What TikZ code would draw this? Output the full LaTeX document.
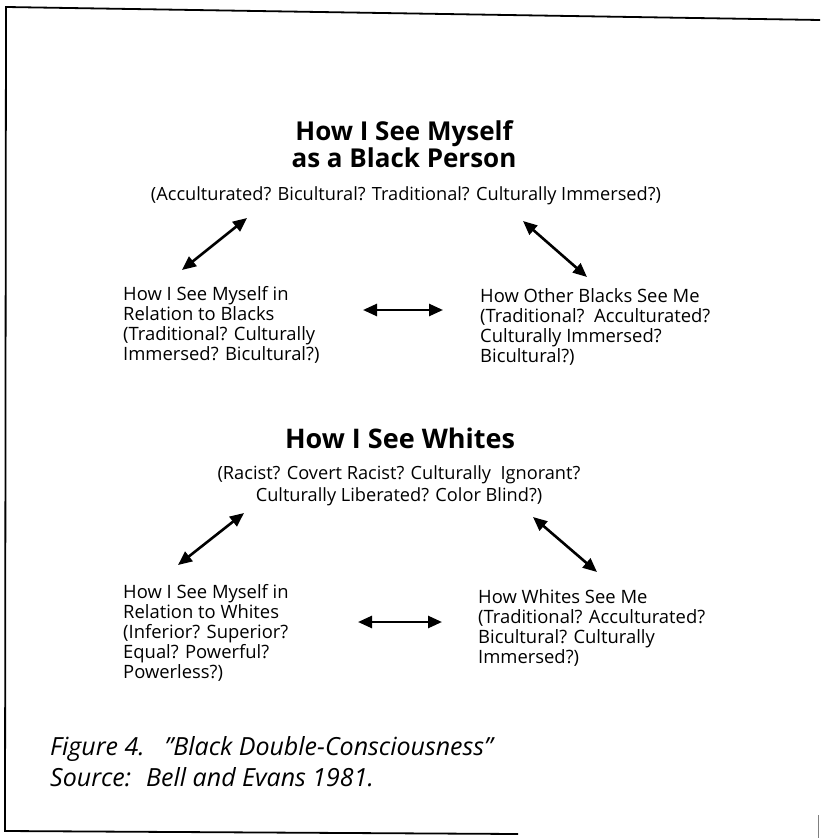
\documentclass[tikz,border=0pt]{standalone}
\usepackage{fontspec}
\setmainfont{Open Sans}
\usetikzlibrary{arrows.meta}
\begin{document}
\begin{tikzpicture}[x=1pt,y=-1pt,
  frameline/.style={line width=1.8pt, black},
  title/.style={font=\fontsize{26}{25}\selectfont\bfseries, inner sep=0pt, align=center, anchor=base},
  bigtitle/.style={font=\fontsize{27}{27}\selectfont\bfseries, inner sep=0pt, anchor=base},
  sub/.style={font=\fontsize{18.2}{22}\selectfont, inner sep=0pt, align=center, anchor=base},
  block/.style={font=\fontsize{18.4}{20}\selectfont, inner sep=0pt, align=left, anchor=base west},
  captext/.style={font=\fontsize{25}{27}\selectfont\itshape, inner sep=0pt, anchor=base west},
  dbl/.style={line width=2.6pt, {Triangle[length=14pt,width=12pt]}-{Triangle[length=14pt,width=12pt]}}
]
\useasboundingbox (0,0) rectangle (820,840);
% frame
\coordinate (fTL) at (6,7);
\coordinate (fTR) at (820,20);
\coordinate (fBL) at (5,831);
\coordinate (fBR) at (518,834);
\draw[frameline] (fTR) -- (fTL) -- (fBL) -- (fBR);
\draw[line width=1pt, gray] (818,815) -- (818,838);

% upper group (anchor = baseline of last line)
\node[title] (t1) at (404,167) {How I See Myself\\as a Black Person};
\node[sub] (s1) at (406,200) {(Acculturated? Bicultural? Traditional? Culturally Immersed?)};
\node[block] (l1) at (123,360) {How I See Myself in\\Relation to Blacks\\(Traditional? Culturally\\Immersed? Bicultural?)};
\node[block] (r1) at (480,362) {How Other Blacks See Me\\(Traditional?\ \ Acculturated?\\Culturally Immersed?\\Bicultural?)};

\coordinate (a1s) at (182,270); \coordinate (a1e) at (247,218);
\coordinate (a2s) at (523,221); \coordinate (a2e) at (587,277);
\coordinate (a3s) at (363,310); \coordinate (a3e) at (443,310);
\draw[dbl] (a1s) -- (a1e);
\draw[dbl] (a2s) -- (a2e);
\draw[dbl] (a3s) -- (a3e);

% lower group
\node[bigtitle] (t2) at (400,448) {How I See Whites};
\node[sub] (s2) at (399,501) {(Racist? Covert Racist? Culturally\ \ Ignorant?\\Culturally Liberated? Color Blind?)};
\node[block] (l2) at (123,678) {How I See Myself in\\Relation to Whites\\(Inferior? Superior?\\Equal? Powerful?\\Powerless?)};
\node[block] (r2) at (478,663) {How Whites See Me\\(Traditional? Acculturated?\\Bicultural? Culturally\\Immersed?)};

\coordinate (b1s) at (178,565); \coordinate (b1e) at (244,513);
\coordinate (b2s) at (533,517); \coordinate (b2e) at (597,572);
\coordinate (b3s) at (358,622); \coordinate (b3e) at (442,622);
\draw[dbl] (b1s) -- (b1e);
\draw[dbl] (b2s) -- (b2e);
\draw[dbl] (b3s) -- (b3e);

% caption
\node[captext] (fig) at (50,755) {Figure 4.\hspace{0.8em}"Black Double-Consciousness"};
\node[captext] (src) at (50,786) {Source:\hspace{0.6em}Bell and Evans 1981.};
\end{tikzpicture}
\end{document}
